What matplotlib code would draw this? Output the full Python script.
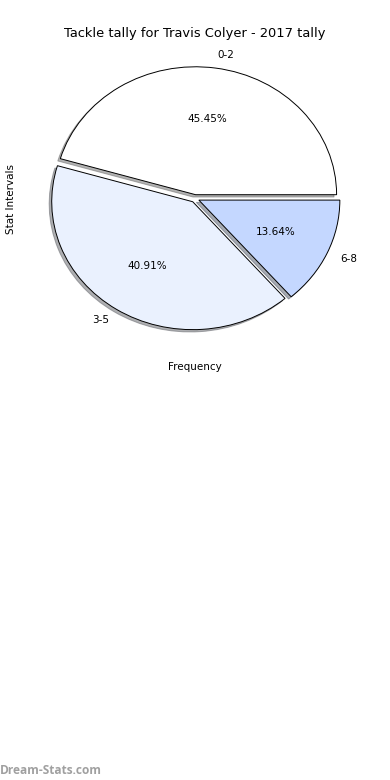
import matplotlib
matplotlib.use("Agg")
from matplotlib import pyplot as plt


labels = ["0-2", "3-5", "6-8"]
tally = [10, 9, 3]
colours = ["#ffffff", "#eaf1fe", "#c4d7ff"]

fig = plt.figure(figsize=(3.9, 7.8), dpi=100)

# axes box in pixels: left 22, right 368, top 45, bottom 352
W, H = 390.0, 780.0
ax = fig.add_axes([22 / W, (H - 352) / H, 346 / W, 307 / H])

ax.pie(tally, labels=labels, colors=colours, autopct="%1.2f%%",
       startangle=0, explode=[0.03, 0.03, 0.03],
       shadow={"ox": -0.013, "oy": -0.013, "shade": 0.6},
       wedgeprops={"edgecolor": "black", "linewidth": 0.7},
       textprops={"fontsize": 7.5})
# the original pie is slightly squashed vertically
ax.set_aspect("auto")
ax.set_xlim(-1.227, 1.227)
ax.set_ylim(-1.2, 1.2)

ax.set_title("Tackle tally for Travis Colyer - 2017 tally", fontsize=9.4)
ax.set_xlabel("Frequency", fontsize=7.5, labelpad=7)
ax.set_ylabel("Stat Intervals", fontsize=7.5)

fig.text(0.0, 0.004, "Dream-Stats.com", fontsize=8.6, fontweight="bold",
         color="#a0a0a0", family="Open Sans", ha="left", va="bottom")

fig.savefig("out.png", dpi=100)
